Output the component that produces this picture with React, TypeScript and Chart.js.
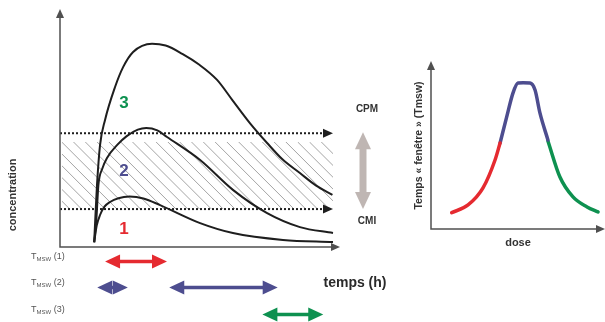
import React, { useEffect, useRef } from "react";
import { Chart, registerables } from "chart.js";
Chart.register(...registerables);

// ---------- Left chart data (time 0..100, concentration 0..100) ----------
const curve1T = [12.3, 13.2, 14.4, 16.0, 18.0, 21, 25, 30, 36, 50.4, 62.2, 80.2, 98.2];
const curve1C = [2, 9, 13.5, 17, 19, 20.6, 21.3, 20.5, 17.7, 10.1, 5.9, 3.0, 2.1];
const curve2T = [12.3, 13.1, 13.8, 15.2, 16.9, 20.5, 24, 28, 31, 35, 38.5, 50.4, 62.2, 74.5, 86.3, 98.2];
const curve2C = [2, 12, 26, 33, 37.6, 43, 46.8, 49.5, 50.2, 49.2, 46.4, 36.7, 24.1, 14.3, 8.4, 5.9];
const curve3T = [12.3, 12.7, 13.3, 14.4, 16.2, 19.8, 22.7, 26.3, 33.1, 38, 44, 50, 56.5, 62, 68.3, 74.5, 80, 86.3, 92, 98];
const curve3C = [2, 12, 26, 43, 53.6, 67.5, 75.9, 82.3, 85.8, 85, 81.5, 77, 70.5, 62, 52.3, 43.9, 37, 31.2, 26, 22];

const cpm = 48;
const cmi = 16;
const hatchTop = 44.3;
const lineEndT = 98.2;

const curveLabels = ["3", "2", "1"];
const curveLabelT = [23, 23, 23];
const curveLabelC = [60.8, 32, 7.6];

const RED = "#e52a30";
const PURPLE = "#4d4d8f";
const GREEN = "#0e9150";
const labelColors = [GREEN, PURPLE, RED];

// Tmsw windows (time units) per curve: [start, end]
const tmsw1 = [[16.2, 38.5]];
const tmsw2 = [[13.4, 24.4], [39.3, 78.3]];
const tmsw3 = [[72.8, 94.7]];
const tmswRows = [tmsw1, tmsw2, tmsw3];
const tmswColors = [RED, PURPLE, GREEN];
const tmswNames = ["(1)", "(2)", "(3)"];

// ---------- Right chart data (dose 0..100, window 0..100) ----------
const doseRed = [11.9, 21.3, 29.9, 36.8, 39.7];
const tmswRed = [9.8, 14.4, 24.6, 41.3, 51.5];
const dosePurple = [39.7, 43.5, 47.1, 50, 53, 56.9, 59.8, 62.6, 67.2];
const tmswPurple = [51.5, 67.1, 81.4, 87.4, 87.6, 87.4, 83.2, 69.5, 53.3];
const doseGreen = [67.2, 74.1, 81.6, 89.7, 96];
const tmswGreen = [52.7, 31.1, 19.2, 13.2, 10.2];

const FONT = "'Liberation Sans', Arial, Helvetica, sans-serif";
const AXIS = "#505050";

const pts = (xs: number[], ys: number[]) => xs.map((x, i) => ({ x, y: ys[i] }));

function arrowHead(ctx: CanvasRenderingContext2D, tx: number, ty: number, dx: number, dy: number, len: number, half: number, color: string) {
  const bx = tx - dx * len, by = ty - dy * len;
  const px = -dy, py = dx;
  ctx.beginPath();
  ctx.moveTo(tx, ty);
  ctx.lineTo(bx + px * half, by + py * half);
  ctx.lineTo(bx - px * half, by - py * half);
  ctx.closePath();
  ctx.fillStyle = color;
  ctx.fill();
}

function blockArrow(ctx: CanvasRenderingContext2D, x1: number, y1: number, x2: number, y2: number, shaft: number, headLen: number, headHalf: number, color: string) {
  const L = Math.hypot(x2 - x1, y2 - y1);
  const dx = (x2 - x1) / L, dy = (y2 - y1) / L;
  const hl = Math.min(headLen, L / 2);
  ctx.save();
  ctx.strokeStyle = color;
  ctx.lineWidth = shaft;
  ctx.lineCap = "butt";
  ctx.beginPath();
  ctx.moveTo(x1 + dx * hl * 0.8, y1 + dy * hl * 0.8);
  ctx.lineTo(x2 - dx * hl * 0.8, y2 - dy * hl * 0.8);
  ctx.stroke();
  ctx.restore();
  arrowHead(ctx, x2, y2, dx, dy, hl, headHalf, color);
  arrowHead(ctx, x1, y1, -dx, -dy, hl, headHalf, color);
}

function drawAxes(ctx: CanvasRenderingContext2D, a: any, rightExtra: number) {
  ctx.save();
  ctx.strokeStyle = AXIS;
  ctx.lineWidth = 1.5;
  ctx.beginPath();
  ctx.moveTo(a.left, a.top + 6);
  ctx.lineTo(a.left, a.bottom);
  ctx.lineTo(a.right + rightExtra - 6, a.bottom);
  ctx.stroke();
  arrowHead(ctx, a.left, a.top - 1, 0, -1, 9, 4, AXIS);
  arrowHead(ctx, a.right + rightExtra, a.bottom, 1, 0, 9, 4, AXIS);
  ctx.restore();
}

const leftDecor = {
  id: "leftDecor",
  beforeDatasetsDraw(chart: any) {
    const { ctx, chartArea: a, scales } = chart;
    const xs = scales.x, ys = scales.y;
    // hatch
    const hx0 = a.left + 2, hx1 = xs.getPixelForValue(lineEndT);
    const hy0 = ys.getPixelForValue(hatchTop), hy1 = ys.getPixelForValue(cmi);
    ctx.save();
    ctx.beginPath();
    ctx.rect(hx0, hy0, hx1 - hx0, hy1 - hy0);
    ctx.clip();
    ctx.strokeStyle = "#9a9a9a";
    ctx.lineWidth = 0.9;
    const h = hy1 - hy0;
    for (let k = hx0 - h - 4; k < hx1; k += 11.8) {
      ctx.beginPath();
      ctx.moveTo(k, hy0);
      ctx.lineTo(k + h, hy1);
      ctx.stroke();
    }
    ctx.restore();
    // dotted threshold lines
    [cpm, cmi].forEach((v) => {
      const y = ys.getPixelForValue(v);
      const xe = xs.getPixelForValue(lineEndT);
      ctx.save();
      ctx.strokeStyle = "#1e1e1e";
      ctx.lineWidth = 2;
      ctx.setLineDash([2, 2]);
      ctx.beginPath();
      ctx.moveTo(a.left, y);
      ctx.lineTo(xe - 8, y);
      ctx.stroke();
      ctx.restore();
      arrowHead(ctx, xe, y, 1, 0, 10, 4.5, "#1e1e1e");
    });
    drawAxes(ctx, a, 2);
  },
  afterDatasetsDraw(chart: any) {
    const { ctx, chartArea: a, scales } = chart;
    const xs = scales.x, ys = scales.y;
    ctx.save();
    ctx.textAlign = "center";
    ctx.textBaseline = "middle";
    ctx.font = `bold 17px ${FONT}`;
    curveLabels.forEach((t, i) => {
      ctx.fillStyle = labelColors[i];
      ctx.fillText(t, xs.getPixelForValue(curveLabelT[i]), ys.getPixelForValue(curveLabelC[i]));
    });
    // concentration label
    ctx.save();
    ctx.translate(13, a.bottom - 52);
    ctx.rotate(-Math.PI / 2);
    ctx.font = `bold 11px ${FONT}`;
    ctx.fillStyle = "#333";
    ctx.fillText("concentration", 0, 0);
    ctx.restore();
    // Tmsw rows
    const rowOff = [10, 36, 63];
    tmswRows.forEach((row, i) => {
      const ly = a.bottom + rowOff[i];
      ctx.textAlign = "left";
      ctx.fillStyle = "#555";
      ctx.font = `9px ${FONT}`;
      let x = 31;
      ctx.fillText("T", x, ly);
      x += ctx.measureText("T").width;
      ctx.font = `6px ${FONT}`;
      ctx.fillText("MSW", x, ly + 2);
      x += ctx.measureText("MSW").width;
      ctx.font = `9px ${FONT}`;
      ctx.fillText(" " + tmswNames[i], x, ly);
      row.forEach(([s, e]) => {
        blockArrow(ctx, xs.getPixelForValue(s), ly + 4.5, xs.getPixelForValue(e), ly + 4.5, 3.5, 15, 7, tmswColors[i]);
      });
    });
    // temps (h)
    ctx.textAlign = "center";
    ctx.fillStyle = "#2a2a2a";
    ctx.font = `bold 14px ${FONT}`;
    ctx.fillText("temps (h)", a.right + 17, a.bottom + 36);
    // CPM / CMI
    const yCpm = ys.getPixelForValue(cpm), yCmi = ys.getPixelForValue(cmi);
    ctx.font = `bold 10px ${FONT}`;
    ctx.fillStyle = "#333";
    ctx.fillText("CPM", a.right + 29, yCpm - 24);
    ctx.fillText("CMI", a.right + 29, yCmi + 12);
    blockArrow(ctx, a.right + 25, yCpm - 1, a.right + 25, yCmi, 7, 17, 8, "#bfb6b3");
    ctx.restore();
  },
};

const rightDecor = {
  id: "rightDecor",
  beforeDatasetsDraw(chart: any) {
    drawAxes(chart.ctx, chart.chartArea, 0);
  },
  afterDatasetsDraw(chart: any) {
    const { ctx, chartArea: a } = chart;
    ctx.save();
    ctx.textAlign = "center";
    ctx.textBaseline = "middle";
    ctx.fillStyle = "#333";
    ctx.font = `bold 11px ${FONT}`;
    ctx.fillText("dose", (a.left + a.right) / 2, a.bottom + 14);
    ctx.translate(a.left - 12, (a.top + a.bottom) / 2);
    ctx.rotate(-Math.PI / 2);
    ctx.font = `bold 10.5px ${FONT}`;
    ctx.fillText("Temps \u00ab fen\u00eatre \u00bb (Tmsw)", 0, 0);
    ctx.restore();
  },
};

const baseScales = {
  x: { type: "linear" as const, min: 0, max: 100, display: false },
  y: { type: "linear" as const, min: 0, max: 100, display: false },
};

export default function App() {
  const leftRef = useRef<HTMLCanvasElement>(null);
  const rightRef = useRef<HTMLCanvasElement>(null);

  useEffect(() => {
    const curveDs = (xs: number[], ys: number[]) => ({
      data: pts(xs, ys),
      borderColor: "#1e1e1e",
      borderWidth: 2,
      pointRadius: 0,
      fill: false,
      cubicInterpolationMode: "monotone" as const,
      clip: false as any,
    });
    const left = new Chart(leftRef.current!, {
      type: "line",
      data: { datasets: [curveDs(curve3T, curve3C), curveDs(curve2T, curve2C), curveDs(curve1T, curve1C)] },
      options: {
        animation: false,
        responsive: false,
        devicePixelRatio: 1,
        layout: { padding: { left: 60, right: 62, top: 10, bottom: 75 } },
        scales: baseScales,
        plugins: { legend: { display: false }, tooltip: { enabled: false } },
      },
      plugins: [leftDecor],
    });
    const bellDs = (xs: number[], ys: number[], c: string) => ({
      data: pts(xs, ys),
      borderColor: c,
      borderWidth: 3.5,
      pointRadius: 0,
      fill: false,
      borderCapStyle: "round" as const,
      cubicInterpolationMode: "monotone" as const,
      clip: false as any,
    });
    const right = new Chart(rightRef.current!, {
      type: "line",
      data: {
        datasets: [
          bellDs(doseRed, tmswRed, RED),
          bellDs(dosePurple, tmswPurple, PURPLE),
          bellDs(doseGreen, tmswGreen, GREEN),
        ],
      },
      options: {
        animation: false,
        responsive: false,
        devicePixelRatio: 1,
        layout: { padding: { left: 31, right: 0, top: 62, bottom: 93 } },
        scales: baseScales,
        plugins: { legend: { display: false }, tooltip: { enabled: false } },
      },
      plugins: [rightDecor],
    });
    return () => {
      left.destroy();
      right.destroy();
    };
  }, []);

  return (
    <div style={{ position: "fixed", left: 0, top: 0, width: 605, height: 322, background: "#fff" }}>
      <canvas ref={leftRef} width={400} height={322} style={{ position: "absolute", left: 0, top: 0, width: 400, height: 322 }} />
      <canvas ref={rightRef} width={205} height={322} style={{ position: "absolute", left: 400, top: 0, width: 205, height: 322 }} />
    </div>
  );
}
